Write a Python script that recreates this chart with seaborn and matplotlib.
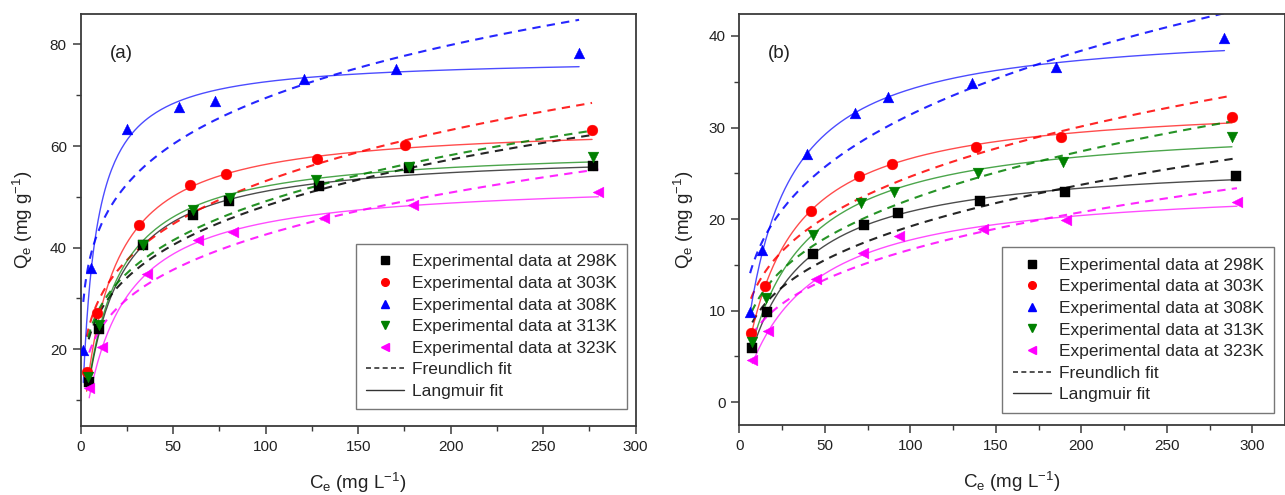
import numpy as np
import pandas as pd
import matplotlib
matplotlib.use("Agg")
import matplotlib.pyplot as plt
import seaborn as sns
from matplotlib.lines import Line2D
from matplotlib.ticker import MultipleLocator

# ---------------- data ----------------
temps = ["298K", "303K", "308K", "313K", "323K"]
colors = ["#000000", "#FF0000", "#0000FF", "#008000", "#FF00FF"]
markers = ["s", "o", "^", "v", "<"]

# panel (a): experimental points
a_ce_298 = [4.3, 10.1, 33.8, 60.9, 80.3, 129.0, 177.5, 277.1]
a_qe_298 = [13.6, 23.9, 40.5, 46.4, 49.2, 52.2, 55.7, 56.1]
a_ce_303 = [3.2, 8.6, 31.7, 59.1, 78.4, 127.6, 175.3, 276.4]
a_qe_303 = [15.5, 27.2, 44.5, 52.3, 54.6, 57.5, 60.3, 63.1]
a_ce_308 = [1.4, 5.6, 24.9, 53.1, 72.8, 120.9, 170.3, 269.4]
a_qe_308 = [19.8, 36.0, 63.3, 67.6, 68.9, 73.2, 75.2, 78.4]
a_ce_313 = [4.0, 10.1, 33.5, 60.5, 80.7, 127.2, 177.5, 277.1]
a_qe_313 = [14.6, 24.7, 40.5, 47.5, 49.8, 53.3, 55.8, 57.8]
a_ce_323 = [4.6, 11.4, 36.0, 63.6, 82.5, 131.7, 179.8, 279.8]
a_qe_323 = [12.4, 20.5, 34.9, 41.6, 43.1, 45.8, 48.4, 51.0]

# panel (a): fit parameters
a_lang_qm = [59.0, 64.5, 77.5, 60.0, 53.4]
a_lang_kl = [0.0648, 0.0696, 0.15, 0.066, 0.0529]
a_freu_kf = [15.25, 16.8, 27.4, 15.9, 13.1]
a_freu_n_inv = [0.25, 0.25, 0.202, 0.245, 0.256]

# panel (b): experimental points
b_ce_298 = [7.6, 16.0, 43.3, 73.1, 93.0, 140.9, 190.6, 290.1]
b_qe_298 = [5.9, 9.8, 16.2, 19.4, 20.7, 22.0, 23.0, 24.7]
b_ce_303 = [6.8, 15.0, 41.7, 70.2, 89.3, 138.4, 188.1, 288.0]
b_qe_303 = [7.5, 12.7, 20.9, 24.7, 26.0, 27.9, 29.0, 31.1]
b_ce_308 = [6.3, 13.1, 39.4, 67.7, 86.8, 135.9, 185.2, 283.6]
b_qe_308 = [9.8, 16.6, 27.1, 31.6, 33.3, 34.9, 36.6, 39.8]
b_ce_313 = [7.2, 15.6, 42.9, 71.2, 90.5, 139.8, 189.1, 288.0]
b_qe_313 = [6.55, 11.35, 18.3, 21.8, 22.9, 25.0, 26.2, 29.0]
b_ce_323 = [7.6, 17.0, 44.9, 72.5, 93.4, 142.7, 191.1, 290.9]
b_qe_323 = [4.6, 7.8, 13.4, 16.3, 18.1, 18.9, 19.9, 21.9]

# panel (b): fit parameters
b_lang_qm = [26.64, 33.07, 41.17, 30.72, 24.02]
b_lang_kl = [0.0358, 0.0412, 0.0489, 0.0343, 0.0281]
b_freu_kf = [4.67, 6.48, 8.26, 5.36, 3.87]
b_freu_n_inv = [0.307, 0.29, 0.29, 0.308, 0.317]

legend_labels = [f"Experimental data at {t}" for t in temps] + ["Freundlich fit", "Langmuir fit"]

# ---------------- style ----------------
sns.set_theme(style="ticks")
plt.rcParams["font.family"] = ["Liberation Sans", "DejaVu Sans"]
plt.rcParams["mathtext.default"] = "regular"
plt.rcParams["axes.edgecolor"] = "#3a3a3a"
plt.rcParams["axes.linewidth"] = 1.3

fig = plt.figure(figsize=(12.85, 4.95), dpi=100)
W, H = 1285.0, 495.0
ax_a = fig.add_axes([80.7 / W, (H - 426) / H, 555 / W, 412 / H])
ax_b = fig.add_axes([739.3 / W, (H - 425) / H, 545.7 / W, 411 / H])


def draw(ax, ces, qes, qm, kl, kf, ninv):
    for i in range(5):
        ce = np.asarray(ces[i], float)
        qe = np.asarray(qes[i], float)
        grid = np.linspace(ce.min(), ce.max(), 300)
        lang = qm[i] * kl[i] * grid / (1 + kl[i] * grid)
        freu = kf[i] * grid ** ninv[i]
        df = pd.DataFrame({"C": grid, "L": lang, "F": freu})
        sns.lineplot(data=df, x="C", y="F", ax=ax, color=colors[i], lw=1.5,
                     linestyle=(0, (4, 3)), alpha=0.85, legend=False, zorder=2)
        sns.lineplot(data=df, x="C", y="L", ax=ax, color=colors[i], lw=1.0,
                     alpha=0.7, legend=False, zorder=2)
        pts = pd.DataFrame({"C": ce, "Q": qe})
        sns.scatterplot(data=pts, x="C", y="Q", ax=ax, color=colors[i], marker=markers[i],
                        s=60, edgecolor=colors[i], linewidth=0.3, legend=False, zorder=3)


draw(ax_a, [a_ce_298, a_ce_303, a_ce_308, a_ce_313, a_ce_323],
     [a_qe_298, a_qe_303, a_qe_308, a_qe_313, a_qe_323],
     a_lang_qm, a_lang_kl, a_freu_kf, a_freu_n_inv)
draw(ax_b, [b_ce_298, b_ce_303, b_ce_308, b_ce_313, b_ce_323],
     [b_qe_298, b_qe_303, b_qe_308, b_qe_313, b_qe_323],
     b_lang_qm, b_lang_kl, b_freu_kf, b_freu_n_inv)

ax_a.set_xlim(0, 300)
ax_a.set_ylim(4.9, 86)
ax_a.xaxis.set_major_locator(MultipleLocator(50))
ax_a.xaxis.set_minor_locator(MultipleLocator(25))
ax_a.yaxis.set_major_locator(MultipleLocator(20))
ax_a.yaxis.set_minor_locator(MultipleLocator(10))

ax_b.set_xlim(0, 319)
ax_b.set_ylim(-2.5, 42.4)
ax_b.xaxis.set_major_locator(MultipleLocator(50))
ax_b.xaxis.set_minor_locator(MultipleLocator(25))
ax_b.yaxis.set_major_locator(MultipleLocator(10))
ax_b.yaxis.set_minor_locator(MultipleLocator(5))

handles = []
for i in range(5):
    handles.append(Line2D([], [], ls="none", marker=markers[i], color=colors[i],
                          markersize=5.5))
handles.append(Line2D([], [], color="#333333", lw=1.2, ls=(0, (3, 2))))
handles.append(Line2D([], [], color="#333333", lw=1.0, ls="-"))

for ax, lab, anchor, ylpad in [(ax_a, "(a)", (0.985, 0.0405), 11),
                               (ax_b, "(b)", (0.980, 0.030), 9)]:
    for s in ["top", "right"]:
        ax.spines[s].set_visible(True)
    ax.tick_params(which="major", direction="out", length=6, width=1.1,
                   labelsize=11, top=False, right=False, pad=4, colors="#3a3a3a",
                   labelcolor="#222222")
    ax.tick_params(which="minor", direction="out", length=3.5, width=1.0,
                   top=False, right=False, colors="#3a3a3a")
    ax.set_xlabel("C$_e$ (mg L$^{-1}$)", fontsize=13.5, labelpad=12, color="#222222")
    ax.set_ylabel("Q$_e$ (mg g$^{-1}$)", fontsize=13.5, labelpad=ylpad, color="#222222")
    ax.text(0.052, 0.905, lab, transform=ax.transAxes, fontsize=13.5, color="#222222",
            ha="left", va="center")
    leg = ax.legend(handles, legend_labels, loc="lower right", bbox_to_anchor=anchor,
                    borderaxespad=0, fontsize=12.5, frameon=True, fancybox=False,
                    edgecolor="#777777", framealpha=1, handlelength=2.2,
                    handletextpad=0.45, labelspacing=0.37, borderpad=0.6)
    leg.get_frame().set_linewidth(1.0)

fig.savefig("out.png", dpi=100)
